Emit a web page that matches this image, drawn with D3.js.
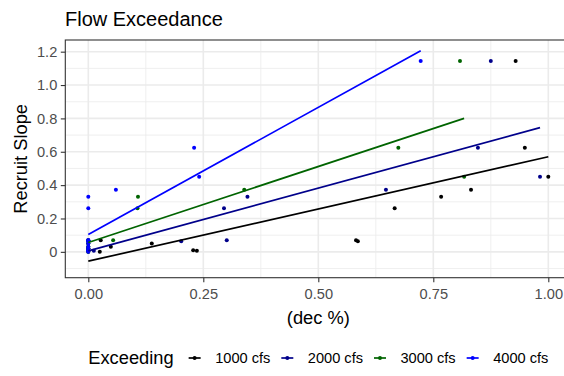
<!DOCTYPE html>
<html>
<head>
<meta charset="utf-8">
<script src="https://cdn.jsdelivr.net/npm/d3@7"></script>
<style>
  html, body { margin: 0; padding: 0; background: #fff; overflow: hidden; }
  svg { display: block; font-family: "Liberation Sans", Arial, sans-serif; }
</style>
</head>
<body>
<svg id="chart" width="564" height="376"></svg>
<script>
// Flow-exceedance series (thresholds), their colours
const seriesNames  = ["1000 cfs", "2000 cfs", "3000 cfs", "4000 cfs"];
const seriesColors = ["#000000", "#00008B", "#006400", "#0000FF"];

// Recruit slope per site (shared by every threshold)
const recruitSlope = [1.144, 0.624, 0.45, 0.372, 0.33, 0.262, 0.07, 0.064, 0.05, 0.01, 0.006, 0.07, 0.03, 0.0, 0.02];

// Exceedance fraction per site, one array per threshold
const exceed1000 = [0.929, 0.949, 1.0, 0.832, 0.767, 0.666, 0.582, 0.586, 0.138, 0.228, 0.236, 0.027, 0.049, 0.025, 0];
const exceed2000 = [0.875, 0.847, 0.982, 0.647, 0.346, 0.295, 0.301, 0.202, 0, 0, 0.012, 0, 0, 0, 0];
const exceed3000 = [0.808, 0.674, 0.817, 0.339, 0.108, 0.107, 0.054, 0, 0, 0, 0, 0, 0, 0, 0];
const exceed4000 = [0.7226, 0.23, 0.241, 0.06, 0, 0, 0, 0, 0, 0, 0, 0, 0, 0, 0];

// Linear fit (intercept, slope) for each threshold
const fitIntercept = [-0.056, 0.006, 0.056, 0.104];
const fitSlope     = [0.626, 0.752, 0.911, 1.525];

// Axis ticks
const xTicks = [0, 0.25, 0.5, 0.75, 1.0];
const yTicks = [0, 0.2, 0.4, 0.6, 0.8, 1.0, 1.2];
const xMinor = [0.125, 0.375, 0.625, 0.875];
const yMinor = [-0.1, 0.1, 0.3, 0.5, 0.7, 0.9, 1.1];

const exceedBySeries = [exceed1000, exceed2000, exceed3000, exceed4000];
const series = seriesNames.map((name, i) => ({
  name,
  color: seriesColors[i],
  points: exceedBySeries[i].map((xv, j) => ({ x: xv, y: recruitSlope[j] })),
  a: fitIntercept[i],
  b: fitSlope[i]
}));

const svg = d3.select("#chart");
const panel = { left: 65.3, right: 571.3, top: 40, bottom: 277.7 };

const x = d3.scaleLinear().domain([-0.05, 1.05]).range([panel.left, panel.right]);
const y = d3.scaleLinear().domain([-0.155, 1.27]).range([panel.bottom, panel.top]);

// Title
svg.append("text")
  .attr("x", 65).attr("y", 26)
  .attr("font-size", 20).attr("fill", "#000")
  .text("Flow Exceedance");

// Grid
const grid = svg.append("g");
grid.selectAll(".xminor").data(xMinor).join("line")
  .attr("x1", d => x(d)).attr("x2", d => x(d))
  .attr("y1", panel.top).attr("y2", panel.bottom)
  .attr("stroke", "#ebebeb").attr("stroke-width", 0.8);
grid.selectAll(".yminor").data(yMinor).join("line")
  .attr("x1", panel.left).attr("x2", panel.right)
  .attr("y1", d => y(d)).attr("y2", d => y(d))
  .attr("stroke", "#ebebeb").attr("stroke-width", 0.8);
grid.selectAll(".xmajor").data(xTicks).join("line")
  .attr("x1", d => x(d)).attr("x2", d => x(d))
  .attr("y1", panel.top).attr("y2", panel.bottom)
  .attr("stroke", "#ebebeb").attr("stroke-width", 1.6);
grid.selectAll(".ymajor").data(yTicks).join("line")
  .attr("x1", panel.left).attr("x2", panel.right)
  .attr("y1", d => y(d)).attr("y2", d => y(d))
  .attr("stroke", "#ebebeb").attr("stroke-width", 1.6);

// Points
series.forEach(s => {
  svg.append("g").selectAll("circle").data(s.points).join("circle")
    .attr("cx", d => x(d.x)).attr("cy", d => y(d.y))
    .attr("r", 2).attr("fill", s.color);
});

// Fit lines over each series' x extent
series.forEach(s => {
  const ext = d3.extent(s.points, d => d.x);
  const line = d3.line().x(d => x(d)).y(d => y(s.a + s.b * d));
  svg.append("path")
    .attr("d", line(ext))
    .attr("fill", "none").attr("stroke", s.color).attr("stroke-width", 1.7);
});

// Panel border
svg.append("rect")
  .attr("x", panel.left).attr("y", panel.top)
  .attr("width", panel.right - panel.left).attr("height", panel.bottom - panel.top)
  .attr("fill", "none").attr("stroke", "#333").attr("stroke-width", 1.1);

// Axes
const yAxis = svg.append("g")
  .attr("transform", `translate(${panel.left},0)`)
  .call(d3.axisLeft(y).tickValues(yTicks).tickSize(4.5).tickPadding(3.5)
    .tickFormat(d => d === 0 ? "0" : d3.format(".1f")(d)));
const xAxis = svg.append("g")
  .attr("transform", `translate(0,${panel.bottom})`)
  .call(d3.axisBottom(x).tickValues(xTicks).tickSize(4.5).tickPadding(6)
    .tickFormat(d3.format(".2f")));
[yAxis, xAxis].forEach(g => {
  g.select(".domain").remove();
  g.selectAll(".tick line").attr("stroke", "#333").attr("stroke-width", 1.1);
  g.selectAll(".tick text").attr("fill", "#4d4d4d").attr("font-size", 14.6)
    .attr("font-family", "Liberation Sans, Arial, sans-serif");
});

// Axis titles
svg.append("text")
  .attr("x", (panel.left + panel.right) / 2).attr("y", 324)
  .attr("text-anchor", "middle").attr("font-size", 18.3).attr("fill", "#000")
  .text("(dec %)");
svg.append("text")
  .attr("transform", `translate(27,${(panel.top + panel.bottom) / 2}) rotate(-90)`)
  .attr("text-anchor", "middle").attr("font-size", 18.3).attr("fill", "#000")
  .text("Recruit Slope");

// Legend, centred under the panel
const legend = svg.append("g");
const legY = 358;
const legTitle = legend.append("text")
  .attr("x", 0).attr("y", legY + 6.3)
  .attr("font-size", 18.3).attr("fill", "#000")
  .text("Exceeding");
let cursor = legTitle.node().getComputedTextLength() + 21;
series.forEach(s => {
  const k = legend.append("g").attr("transform", `translate(${cursor},${legY})`);
  k.append("line").attr("x1", -6).attr("x2", 6).attr("y1", 0).attr("y2", 0)
    .attr("stroke", s.color).attr("stroke-width", 1.7);
  k.append("circle").attr("r", 2).attr("fill", s.color);
  const t = legend.append("text")
    .attr("x", cursor + 20.5).attr("y", legY + 5)
    .attr("font-size", 14.6).attr("fill", "#000")
    .text(s.name);
  cursor += 20.5 + t.node().getComputedTextLength() + 17;
});
const legW = cursor - 17;
legend.attr("transform", `translate(${(panel.left + panel.right) / 2 - legW / 2},0)`);
</script>
</body>
</html>
